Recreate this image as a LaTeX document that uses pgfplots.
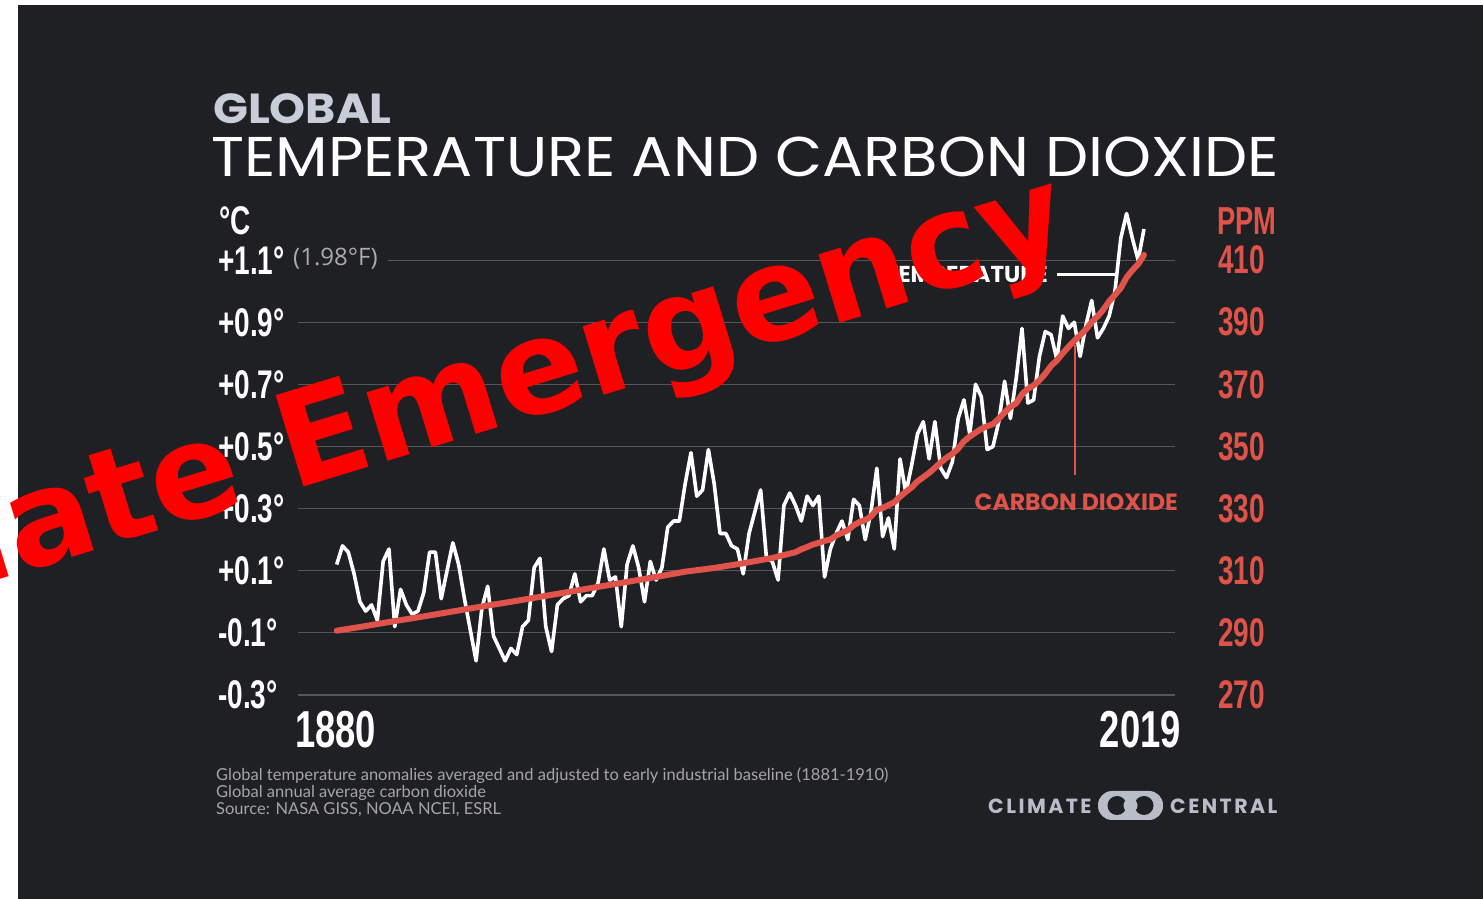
\documentclass[border=0pt]{standalone}
\usepackage{fontspec}
\usepackage{pgfplots}
\pgfplotsset{compat=1.18}
\setmainfont{Open Sans}
\newfontfamily\cond[FakeStretch=0.70]{Liberation Sans}
\newfontfamily\pop{Poppins}
\newfontfamily\popw[FakeStretch=1.09]{Poppins}
\newfontfamily\logo[LetterSpace=12]{Poppins}
\newfontfamily\foot{Lato}
\newfontfamily\wm{DejaVu Sans}
\definecolor{bg}{HTML}{1F2023}
\definecolor{gridgray}{HTML}{55565A}
\definecolor{cored}{HTML}{E0534A}
\definecolor{globalc}{HTML}{C8CDD9}
\definecolor{footgray}{HTML}{A5A5AA}
\definecolor{fgray}{HTML}{AAAAAF}
\definecolor{logogray}{HTML}{B9BDC9}
\begin{document}
\begin{tikzpicture}[x=1pt,y=1pt]
\useasboundingbox (0,0) rectangle (1483,899);
\clip (0,0) rectangle (1483,899);
\fill[white] (0,0) rectangle (1483,899);
\fill[bg] (18,0) rectangle (1483,894);

% titles
\node[anchor=base west, inner sep=0pt, text=globalc, font=\popw\bfseries\fontsize{42}{42}\selectfont] at (213,775) {GLOBAL};
\node[anchor=base west, inner sep=0pt, text=white, font=\popw\fontsize{56}{56}\selectfont] at (211,722) {TEMPERATURE AND CARBON DIOXIDE};

% temperature axis
\begin{axis}[at={(298pt,204pt)}, anchor=south west, scale only axis,
  width=877pt, height=497pt,
  xmin=1873.34, xmax=2024.34, ymin=-0.3, ymax=1.3,
  axis line style={draw=none}, tick style={draw=none},
  xtick=\empty,
  ytick={-0.3,-0.1,0.1,0.3,0.5,0.7,0.9,1.1},
  yticklabels={-0.3°,-0.1°,+0.1°,+0.3°,+0.5°,+0.7°,+0.9°,+1.1°},
  yticklabel style={anchor=west, inner sep=0pt, xshift=-80pt, text=white,
    font=\cond\bfseries\fontsize{40}{40}\selectfont},
  ymajorgrids, grid style={draw=gridgray, line width=1.2pt},
  clip=false]
\addplot[white, line width=3.6pt, line join=round] table[x=year, y=t] {
year t
1880 0.12
1881 0.18
1882 0.16
1883 0.09
1884 0.00
1885 -0.03
1886 -0.01
1887 -0.06
1888 0.13
1889 0.17
1890 -0.08
1891 0.04
1892 -0.01
1893 -0.04
1894 -0.03
1895 0.03
1896 0.16
1897 0.16
1898 0.01
1899 0.10
1900 0.19
1901 0.12
1902 0.01
1903 -0.09
1904 -0.19
1905 -0.02
1906 0.05
1907 -0.11
1908 -0.15
1909 -0.19
1910 -0.15
1911 -0.17
1912 -0.08
1913 -0.06
1914 0.11
1915 0.14
1916 -0.08
1917 -0.16
1918 -0.01
1919 0.01
1920 0.02
1921 0.09
1922 0.00
1923 0.02
1924 0.02
1925 0.06
1926 0.17
1927 0.07
1928 0.08
1929 -0.08
1930 0.12
1931 0.18
1932 0.11
1933 0.00
1934 0.13
1935 0.07
1936 0.11
1937 0.24
1938 0.26
1939 0.26
1940 0.38
1941 0.48
1942 0.34
1943 0.36
1944 0.49
1945 0.38
1946 0.22
1947 0.22
1948 0.18
1949 0.17
1950 0.09
1951 0.22
1952 0.29
1953 0.36
1954 0.14
1955 0.13
1956 0.07
1957 0.31
1958 0.35
1959 0.31
1960 0.26
1961 0.34
1962 0.31
1963 0.34
1964 0.08
1965 0.17
1966 0.22
1967 0.26
1968 0.20
1969 0.33
1970 0.31
1971 0.20
1972 0.29
1973 0.43
1974 0.21
1975 0.27
1976 0.17
1977 0.46
1978 0.35
1979 0.44
1980 0.54
1981 0.58
1982 0.46
1983 0.58
1984 0.43
1985 0.40
1986 0.45
1987 0.59
1988 0.65
1989 0.54
1990 0.70
1991 0.66
1992 0.49
1993 0.50
1994 0.58
1995 0.71
1996 0.59
1997 0.72
1998 0.88
1999 0.64
2000 0.65
2001 0.79
2002 0.87
2003 0.86
2004 0.78
2005 0.92
2006 0.88
2007 0.90
2008 0.79
2009 0.89
2010 0.97
2011 0.85
2012 0.88
2013 0.92
2014 1.00
2015 1.17
2016 1.25
2017 1.17
2018 1.10
2019 1.20
};
\end{axis}

% CO2 axis
\begin{axis}[at={(298pt,204pt)}, anchor=south west, scale only axis,
  width=877pt, height=497pt,
  xmin=1873.34, xmax=2024.34, ymin=270, ymax=430,
  axis line style={draw=none}, tick style={draw=none},
  xtick=\empty,
  ytick={270,290,310,330,350,370,390,410},
  yticklabels={270,290,310,330,350,370,390,410},
  yticklabel pos=right,
  yticklabel style={anchor=west, inner sep=0pt, xshift=43pt, text=cored,
    font=\cond\bfseries\fontsize{40}{40}\selectfont},
  clip=false]
\addplot[cored, line width=6pt, line cap=round, line join=round] table[x=year, y=ppm] {
year ppm
1880 290.7
1885 292.2
1890 293.8
1895 295.3
1900 296.9
1905 298.5
1910 300.0
1915 301.6
1920 303.2
1925 304.8
1930 306.4
1935 308.0
1940 309.7
1945 310.9
1950 312.4
1955 314.1
1959 315.97
1960 316.91
1961 317.64
1962 318.45
1963 318.99
1964 319.62
1965 320.04
1966 321.37
1967 322.18
1968 323.05
1969 324.62
1970 325.68
1971 326.32
1972 327.46
1973 329.68
1974 330.19
1975 331.13
1976 332.03
1977 333.84
1978 335.41
1979 336.84
1980 338.76
1981 340.12
1982 341.48
1983 343.15
1984 344.85
1985 346.35
1986 347.61
1987 349.31
1988 351.69
1989 353.20
1990 354.45
1991 355.70
1992 356.54
1993 357.21
1994 358.96
1995 360.97
1996 362.74
1997 363.88
1998 366.84
1999 368.54
2000 369.71
2001 371.32
2002 373.45
2003 375.98
2004 377.70
2005 379.98
2006 382.09
2007 384.02
2008 385.83
2009 387.64
2010 390.10
2011 391.85
2012 394.06
2013 396.74
2014 398.81
2015 401.01
2016 404.41
2017 406.76
2018 408.72
2019 411.66
};
\end{axis}

% unit labels
\node[anchor=base west, inner sep=0pt, text=white, font=\cond\bfseries\fontsize{40}{40}\selectfont] at (219,664) {°C};
\node[anchor=base west, inner sep=0pt, text=cored, font=\cond\bfseries\fontsize{39}{39}\selectfont] at (1217,664) {PPM};
\fill[bg] (289,634) rectangle (387.5,645);
\node[anchor=base west, inner sep=0pt, text=fgray, font=\fontsize{24}{24}\selectfont] at (293,633) {(1.98°F)};

% year labels
\node[anchor=base west, inner sep=0pt, text=white, font=\cond\bfseries\fontsize{52}{52}\selectfont] at (295,151) {1880};
\node[anchor=base east, inner sep=0pt, text=white, font=\cond\bfseries\fontsize{52}{52}\selectfont] at (1181,151) {2019};

% annotations
\node[anchor=base east, inner sep=0pt, text=white, font=\pop\bfseries\fontsize{23}{23}\selectfont] at (1048,616) {TEMPERATURE};
\draw[white, line width=2.5pt] (1057,624.5) -- (1115,624.5);
\draw[cored, line width=2.5pt] (1075,554) -- (1075,424);
\node[anchor=base east, inner sep=0pt, text=cored, font=\pop\bfseries\fontsize{23.5}{23.5}\selectfont] at (1178,388) {CARBON DIOXIDE};

% footnotes
\node[anchor=base west, inner sep=0pt, text=footgray, font=\foot\fontsize{16.5}{16.5}\selectfont] at (216,118) {Global temperature anomalies averaged and adjusted to early industrial baseline (1881-1910)};
\node[anchor=base west, inner sep=0pt, text=footgray, font=\foot\fontsize{16.5}{16.5}\selectfont] at (216,101) {Global annual average carbon dioxide};
\node[anchor=base west, inner sep=0pt, text=footgray, font=\foot\fontsize{16.5}{16.5}\selectfont] at (216,84) {Source: NASA GISS, NOAA NCEI, ESRL};

% logo
\node[anchor=base west, inner sep=0pt, text=logogray, font=\logo\bfseries\fontsize{20.5}{20.5}\selectfont] at (988,85) {CLIMATE};
\node[anchor=base west, inner sep=0pt, text=logogray, font=\logo\bfseries\fontsize{20.5}{20.5}\selectfont] at (1170,85) {CENTRAL};
\fill[logogray, rounded corners=14pt] (1098,79) rectangle (1163,108);
\fill[bg] (1117,93.5) circle (9.5);
\fill[bg] (1144,93.5) circle (9.5);
\fill[logogray] (1130.5,93.5) circle (7);

% watermark
\node[rotate=17, anchor=base east, inner sep=0pt, text=red, font=\wm\bfseries\fontsize{131}{131}\selectfont] at (1075,648) {Climate Emergency};
\end{tikzpicture}
\end{document}
